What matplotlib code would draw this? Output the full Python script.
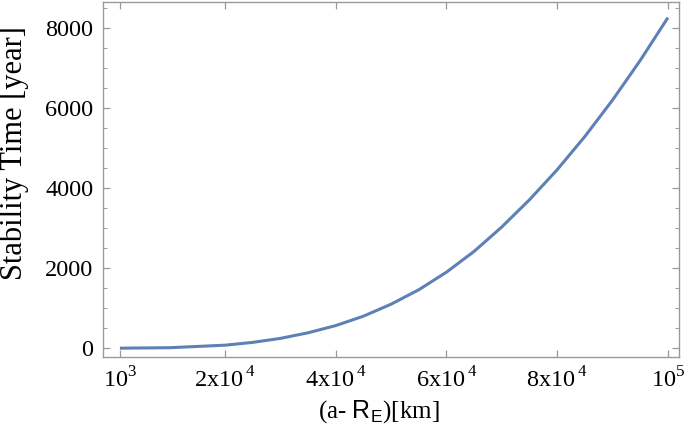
import numpy as np
import matplotlib
matplotlib.use("Agg")
import matplotlib.pyplot as plt
from matplotlib.ticker import MultipleLocator

plt.rcParams['font.family'] = ['Liberation Serif', 'DejaVu Serif']
plt.rcParams['mathtext.fontset'] = 'custom'
plt.rcParams['mathtext.rm'] = 'Liberation Serif'
plt.rcParams['mathtext.sf'] = 'Liberation Sans'

# values
altitude_km = [1000, 10000, 20000, 25000, 30000, 35000, 40000, 45000, 50000, 55000,
               60000, 65000, 70000, 75000, 80000, 85000, 90000, 95000, 100000]
stability_yr = [0, 12, 75, 145, 245, 385, 565, 800, 1100, 1460,
                1900, 2420, 3030, 3710, 4460, 5290, 6200, 7190, 8260]

xtick_vals = [1000, 20000, 40000, 60000, 80000, 100000]
xtick_labels = [r"10$^{3}$", r"2x10$^{\,4}$", r"4x10$^{\,4}$", r"6x10$^{\,4}$",
                r"8x10$^{\,4}$", r"10$^{5}$"]
ytick_vals = [0, 2000, 4000, 6000, 8000]

fig = plt.figure(figsize=(6.85, 4.30), dpi=100)
ax = fig.add_axes([0.1504, 0.1698, 0.8408, 0.8255])

ax.plot(altitude_km, stability_yr, color='#5E81B5', lw=2.2,
        solid_capstyle='butt', solid_joinstyle='round')

ax.set_xlim(-2050, 102000)
ax.set_ylim(-220, 8650)
ax.set_xticks(xtick_vals)
ax.set_xticklabels(xtick_labels)
ax.set_yticks(ytick_vals)
ax.yaxis.set_minor_locator(MultipleLocator(500))

frame = '#9a9a9a'
for s in ax.spines.values():
    s.set_color(frame)
    s.set_linewidth(1.0)
ax.tick_params(which='both', direction='in', top=True, right=True, color=frame,
               labelsize=17.5, labelcolor='black', pad=7)
ax.tick_params(which='major', length=5, width=0.9)
ax.tick_params(which='minor', length=3, width=0.7)

ax.set_ylabel("Stability Time [year]", fontsize=22)
ax.yaxis.set_label_coords(-0.128, 0.575)
ax.set_xlabel(r"(a- $\mathsf{R_E}$)[km]", fontsize=18)
ax.xaxis.set_label_coords(0.479, -0.1155)

fig.savefig("out.png", dpi=100)
